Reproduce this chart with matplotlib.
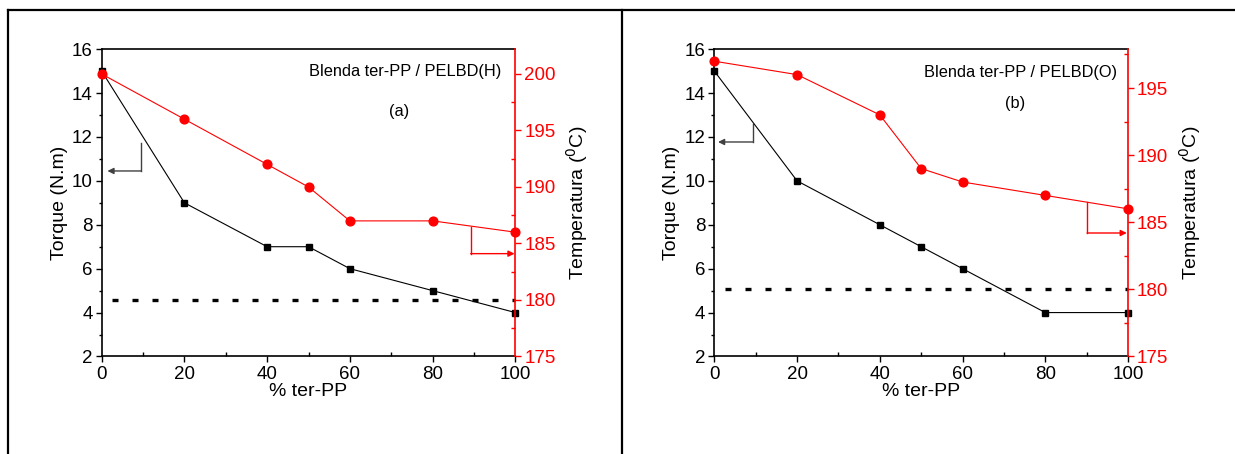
import numpy as np
import matplotlib
matplotlib.use('Agg')
import matplotlib.pyplot as plt
from matplotlib.lines import Line2D

plt.rcParams['font.family'] = ['Liberation Sans', 'DejaVu Sans']

# data
pct = [0, 20, 40, 50, 60, 80, 100]
torque_h = [15, 9, 7, 7, 6, 5, 4]
temp_h = [200, 196, 192, 190, 187, 187, 186]
torque_o = [15, 10, 8, 7, 6, 4, 4]
temp_o = [197, 196, 193, 189, 188, 187, 186]

panels = [
    dict(torque=torque_h, temp=temp_h, title='Blenda ter-PP / PELBD(H)', tag='(a)',
         left=0.0823, t2lim=(175, 202.2), ref=180,
         title_xy=(96.6, 14.97), tag_xy=(72, 13.16),
         black_arrow=[(9.6, 11.73), (9.6, 10.45), (1.4, 10.45)],
         red_arrow=[(89.2, 186.5), (89.2, 184.1), (99.8, 184.1)]),
    dict(torque=torque_o, temp=temp_o, title='Blenda ter-PP / PELBD(O)', tag='(b)',
         left=0.5784, t2lim=(175, 197.9), ref=180,
         title_xy=(97.3, 14.92), tag_xy=(72.8, 13.53),
         black_arrow=[(9.4, 12.6), (9.4, 11.77), (0.9, 11.77)],
         red_arrow=[(90.1, 186.5), (90.1, 184.2), (99.7, 184.2)]),
]

fig = plt.figure(figsize=(12.35, 4.54), dpi=100)

# frame of the table the figure sits in
W, H = 1235.0, 454.0
fig.add_artist(Line2D([7.5 / W, 1.0], [1 - 10 / H, 1 - 10 / H], color='black', lw=1.6))
fig.add_artist(Line2D([7.5 / W, 7.5 / W], [0, 1 - 10 / H], color='black', lw=1.6))
fig.add_artist(Line2D([621.7 / W, 621.7 / W], [0, 1 - 10 / H], color='black', lw=1.6))

for p in panels:
    ax = fig.add_axes([p['left'], 0.2148, 0.3350, 0.677])
    ax2 = ax.twinx()

    ax.plot(pct, p['torque'], color='black', lw=0.8, marker='s', ms=5,
            clip_on=False, zorder=3)
    ax2.plot(pct, p['temp'], color='red', lw=0.8, marker='o', ms=6.3,
             clip_on=False, zorder=3)
    ax2.plot([2.6, 100], [p['ref'], p['ref']], color='black', lw=2.4,
             dashes=(1.8, 4.2), clip_on=False)

    ax.set_xlim(0, 100)
    ax.set_ylim(2, 16)
    ax2.set_ylim(*p['t2lim'])

    ax.set_xticks(range(0, 101, 20))
    ax.set_xticks(range(10, 100, 20), minor=True)
    ax.set_yticks(range(2, 17, 2))
    ax.set_yticks(range(3, 16, 2), minor=True)
    ax2.set_yticks(range(175, int(p['t2lim'][1]) + 1, 5))
    ax2.set_yticks(np.arange(177.5, p['t2lim'][1], 5), minor=True)

    ax.tick_params(axis='both', which='major', direction='out', length=4.5,
                   width=1, labelsize=13.5, pad=2)
    ax.tick_params(axis='y', which='minor', direction='out', length=2.5, width=1)
    ax.tick_params(axis='x', which='minor', direction='in', length=3, width=1)
    ax2.tick_params(axis='y', which='major', direction='out', length=4.5, width=1,
                    colors='red', labelsize=13.5, pad=2)
    ax2.tick_params(axis='y', which='minor', direction='in', length=3, width=1,
                    colors='red')

    for s in ax.spines.values():
        s.set_linewidth(1.2)
    ax.spines['right'].set_visible(False)
    ax2.spines['top'].set_visible(False)
    ax2.spines['left'].set_visible(False)
    ax2.spines['bottom'].set_visible(False)
    ax2.spines['right'].set_color('red')
    ax2.spines['right'].set_linewidth(1.2)

    ax.set_xlabel('% ter-PP', fontsize=14, labelpad=0)
    ax.set_ylabel('Torque (N.m)', fontsize=14, labelpad=3)
    ax2.set_ylabel('Temperatura ($^{0}$C)', fontsize=14, labelpad=6)

    ax2.text(*p['title_xy'], p['title'], transform=ax.transData, ha='right',
             va='center', fontsize=11.8)
    ax2.text(*p['tag_xy'], p['tag'], transform=ax.transData, ha='center',
             va='center', fontsize=11.8)

    # pointer arrows telling which axis each curve belongs to
    (x0, y0), (x1, y1), (x2, y2) = p['black_arrow']
    ax.plot([x0, x1], [y0, y1], color='#404040', lw=1)
    ax.annotate('', xy=(x2, y2), xytext=(x1, y1),
                arrowprops=dict(arrowstyle='-|>', color='#404040', lw=1,
                                mutation_scale=9, shrinkA=0, shrinkB=0))
    (x0, y0), (x1, y1), (x2, y2) = p['red_arrow']
    ax2.plot([x0, x1], [y0, y1], color='red', lw=1)
    ax2.annotate('', xy=(x2, y2), xytext=(x1, y1),
                 arrowprops=dict(arrowstyle='-|>', color='red', lw=1,
                                 mutation_scale=9, shrinkA=0, shrinkB=0))

fig.savefig('out.png', dpi=100)
